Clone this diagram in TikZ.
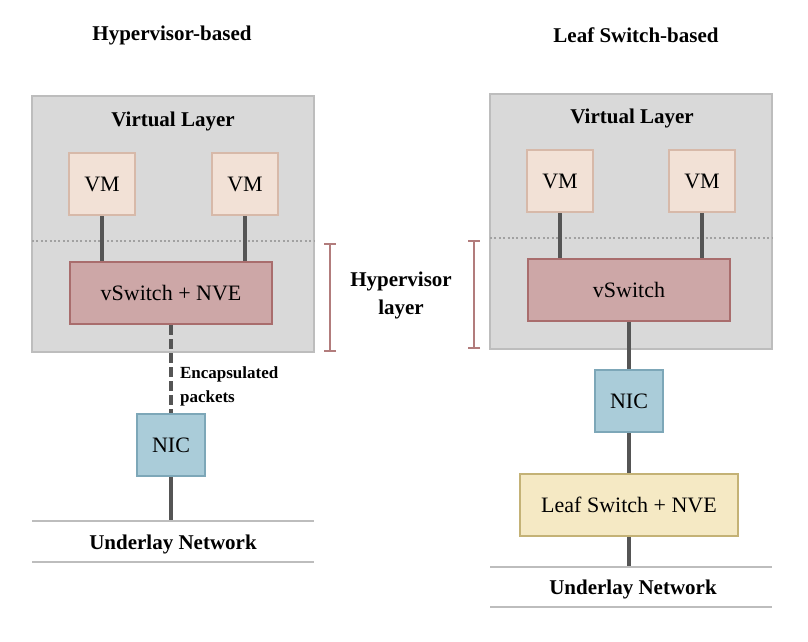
\documentclass[tikz,border=0pt]{standalone}
\usepackage{fontspec}
\setmainfont{Liberation Serif}
\usetikzlibrary{arrows.meta}
\definecolor{layerfill}{HTML}{D9D9D9}
\definecolor{layerline}{HTML}{BDBDBD}
\definecolor{vmfill}{HTML}{F2E1D6}
\definecolor{vmline}{HTML}{D7B9A9}
\definecolor{swfill}{HTML}{CDA7A7}
\definecolor{swline}{HTML}{A96D6D}
\definecolor{nicfill}{HTML}{AACCD9}
\definecolor{nicline}{HTML}{7DA7B8}
\definecolor{leaffill}{HTML}{F5E9C4}
\definecolor{leafline}{HTML}{C4B276}
\definecolor{wire}{HTML}{555555}
\tikzset{
  title/.style={font=\fontsize{10.5}{12}\selectfont\bfseries},
  layer/.style={draw=layerline, fill=layerfill, line width=1.2pt},
  sep/.style={draw=layerline!85!black, line width=1pt, dash pattern=on 1pt off 1.2pt},
  vmbox/.style={draw=vmline, fill=vmfill, line width=1.3pt, minimum width=33pt, minimum height=31pt, font=\fontsize{11}{12}\selectfont},
  swbox/.style={draw=swline, fill=swfill, line width=1.3pt, minimum width=101pt, minimum height=31pt, font=\fontsize{11}{12}\selectfont},
  nicbox/.style={draw=nicline, fill=nicfill, line width=1.3pt, minimum width=34pt, minimum height=31pt, font=\fontsize{11}{12}\selectfont},
  leafbox/.style={draw=leafline, fill=leaffill, line width=1.3pt, minimum width=109pt, minimum height=31pt, font=\fontsize{11}{12}\selectfont},
  link/.style={draw=wire, line width=1.6pt},
  ground/.style={draw=layerline, line width=1.2pt},
  span/.style={draw=swline!90!white, line width=1.2pt, {Bar[width=6pt]}-{Bar[width=6pt]}}
}
\begin{document}
\begin{tikzpicture}[x=0.5pt, y=-0.5pt]
    \useasboundingbox (0,0) rectangle (808,642);
    % left: hypervisor-based
    \node[title] (t1) at (172,35) {Hypervisor-based};
    \draw[layer] (32,96) rectangle (314,352);
    \node[title] (vl1) at (173,121) {Virtual Layer};
    \draw[sep] (32,241) -- (314,241);
    \node[vmbox] (vm1) at (102,184) {VM};
    \node[vmbox] (vm2) at (245,184) {VM};
    \node[swbox] (sw1) at (171,293) {vSwitch + NVE};
    \node[nicbox] (nic1) at (171,445) {NIC};
    \draw[link] (vm1) -- (vm1 |- sw1.north);
    \draw[link] (vm2) -- (vm2 |- sw1.north);
    \draw[link, dash pattern=on 5pt off 2pt] (sw1) -- (nic1);
    \node[anchor=north west, align=left, font=\fontsize{8.5}{12}\selectfont\bfseries] (enc) at (173,360) {Encapsulated\\packets};
    \coordinate (g1) at (171,521);
    \draw[link] (nic1) -- (g1);
    \draw[ground] (32,521) -- (314,521);
    \draw[ground] (32,562) -- (314,562);
    \node[title] (u1) at (173,544) {Underlay Network};
    % middle: hypervisor span
    \coordinate (b1t) at (330,243);
    \coordinate (b1b) at (330,352);
    \coordinate (b2t) at (474,240);
    \coordinate (b2b) at (474,349);
    \draw[span] (b1t) -- (b1b);
    \draw[span] (b2t) -- (b2b);
    \node[title, align=center] (hl) at (401,295) {Hypervisor\\[2pt]layer};
    % right: leaf switch-based
    \node[title] (t2) at (636,35) {Leaf Switch-based};
    \draw[layer] (490,94) rectangle (772,349);
    \node[title] (vl2) at (632,118) {Virtual Layer};
    \draw[sep] (490,238) -- (772,238);
    \node[vmbox] (vm3) at (560,181) {VM};
    \node[vmbox] (vm4) at (702,181) {VM};
    \node[swbox] (sw2) at (629,290) {vSwitch};
    \node[nicbox] (nic2) at (629,401) {NIC};
    \node[leafbox] (leaf) at (629,505) {Leaf Switch + NVE};
    \draw[link] (vm3) -- (vm3 |- sw2.north);
    \draw[link] (vm4) -- (vm4 |- sw2.north);
    \draw[link] (sw2) -- (nic2);
    \draw[link] (nic2) -- (leaf);
    \coordinate (g2) at (629,567);
    \draw[link] (leaf) -- (g2);
    \draw[ground] (490,567) -- (772,567);
    \draw[ground] (490,607) -- (772,607);
    \node[title] (u2) at (633,589) {Underlay Network};
\end{tikzpicture}
\end{document}
